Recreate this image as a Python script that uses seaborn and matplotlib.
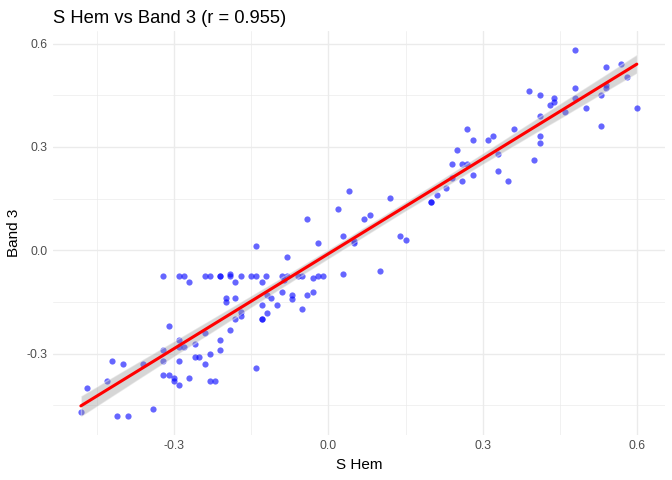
import numpy as np
import pandas as pd
import matplotlib
matplotlib.use("Agg")
import matplotlib.pyplot as plt
import seaborn as sns

# ---- data (S Hem vs Band 3) ----
s_hem = [
    -0.481, -0.470, -0.430, -0.420, -0.410, -0.400, -0.390, -0.361, -0.340,
    # cluster row near -0.075
    -0.321, -0.290, -0.280, -0.240, -0.230, -0.210, -0.210, -0.191, -0.191,
    -0.170, -0.151, -0.141, -0.121, -0.091, -0.081, -0.060, -0.051, -0.030,
    -0.020, -0.010, -0.270, -0.181, -0.130, -0.086,
    # lower-left body
    -0.141, -0.310, -0.200, -0.200, -0.181, -0.170, -0.170, -0.181, -0.130,
    -0.130, -0.191, -0.240, -0.210, -0.210, -0.230, -0.260, -0.291, -0.291,
    -0.280, -0.321, -0.321, -0.291, -0.260, -0.251, -0.240, -0.141, -0.321,
    -0.310, -0.300, -0.300, -0.291, -0.270, -0.230, -0.221,
    # middle
    -0.091, -0.030, -0.041, -0.071, -0.071, -0.120, -0.111, -0.100, -0.130,
    -0.120, -0.051, -0.081, -0.041, -0.020, 0.019, 0.029, 0.040, 0.049,
    0.050, 0.029, 0.069, 0.080, 0.100, 0.120, 0.139, 0.150, 0.200,
    0.200, 0.210, 0.229, 0.239, 0.239, 0.259, 0.270, 0.259, 0.250,
    0.269, 0.280, 0.280, 0.310, 0.320, 0.329, 0.329, 0.349,
    # upper right
    0.360, 0.390, 0.400, 0.410, 0.410, 0.410, 0.410, 0.430, 0.439,
    0.439, 0.460, 0.479, 0.479, 0.479, 0.500, 0.529, 0.529, 0.540,
    0.540, 0.540, 0.569, 0.580, 0.599,
]
band_3 = [
    -0.471, -0.401, -0.381, -0.321, -0.481, -0.331, -0.481, -0.330, -0.462,
    -0.075, -0.075, -0.075, -0.075, -0.075, -0.075, -0.075, -0.070, -0.075,
    -0.075, -0.075, -0.075, -0.075, -0.075, -0.075, -0.075, -0.075, -0.080,
    -0.075, -0.075, -0.091, -0.091, -0.091, -0.085,
    0.012, -0.220, -0.140, -0.150, -0.140, -0.180, -0.190, -0.200, -0.200,
    -0.200, -0.231, -0.241, -0.261, -0.291, -0.300, -0.271, -0.261, -0.282,
    -0.281, -0.291, -0.321, -0.321, -0.311, -0.311, -0.331, -0.341, -0.361,
    -0.361, -0.371, -0.381, -0.391, -0.371, -0.381, -0.381,
    -0.120, -0.120, -0.130, -0.130, -0.141, -0.130, -0.140, -0.160, -0.160,
    -0.181, -0.170, -0.020, 0.091, 0.021, 0.120, 0.041, 0.171, 0.021,
    0.026, -0.070, 0.091, 0.101, -0.060, 0.151, 0.041, 0.031, 0.140,
    0.140, 0.161, 0.181, 0.211, 0.251, 0.251, 0.251, 0.201, 0.292,
    0.352, 0.321, 0.220, 0.321, 0.332, 0.281, 0.231, 0.201,
    0.352, 0.462, 0.261, 0.452, 0.391, 0.332, 0.311, 0.422, 0.442,
    0.432, 0.402, 0.583, 0.472, 0.442, 0.412, 0.452, 0.361, 0.532,
    0.481, 0.472, 0.542, 0.503, 0.412,
]
title = "S Hem vs Band 3 (r = 0.955)"

df = pd.DataFrame({"S Hem": s_hem, "Band 3": band_3})

sns.set_theme(style="white")
plt.rcParams["font.family"] = ["Liberation Sans", "DejaVu Sans"]
plt.rcParams["axes.unicode_minus"] = False

fig = plt.figure(figsize=(6.72, 4.8), dpi=100)
ax = fig.add_axes([0.079, 0.094, 0.910, 0.841])

sns.scatterplot(data=df, x="S Hem", y="Band 3", color="#0000FF", alpha=0.6,
                s=20, linewidth=0, ax=ax, zorder=3)
sns.regplot(data=df, x="S Hem", y="Band 3", scatter=False, color="#999999",
            line_kws={"color": "red", "lw": 2.2, "zorder": 5}, seed=1, ax=ax)
# ggplot-like grey band
for coll in ax.collections:
    if isinstance(coll, matplotlib.collections.PolyCollection):
        coll.set_facecolor("#999999")
        coll.set_alpha(0.4)
        coll.set_zorder(4)

ax.set_xticks([-0.3, 0.0, 0.3, 0.6])
ax.set_xticklabels(["-0.3", "0.0", "0.3", "0.6"])
ax.set_yticks([-0.3, 0.0, 0.3, 0.6])
ax.set_yticklabels(["-0.3", "0.0", "0.3", "0.6"])
ax.set_xticks([-0.45, -0.15, 0.15, 0.45], minor=True)
ax.set_yticks([-0.45, -0.15, 0.15, 0.45], minor=True)
ax.margins(0.05)

ax.grid(which="major", color="#ebebeb", lw=1.0, zorder=0)
ax.grid(which="minor", color="#ebebeb", lw=0.5, zorder=0)
ax.set_axisbelow(True)
for sp in ax.spines.values():
    sp.set_visible(False)
ax.tick_params(which="both", length=0, labelsize=8.8, labelcolor="#4d4d4d", pad=4)

ax.set_xlabel("S Hem", fontsize=11, color="black", labelpad=4)
ax.set_ylabel("Band 3", fontsize=11, color="black", labelpad=4)
ax.set_title(title, loc="left", fontsize=13.2, color="black", pad=6)

fig.savefig("out.png", dpi=100)
plt.close(fig)
